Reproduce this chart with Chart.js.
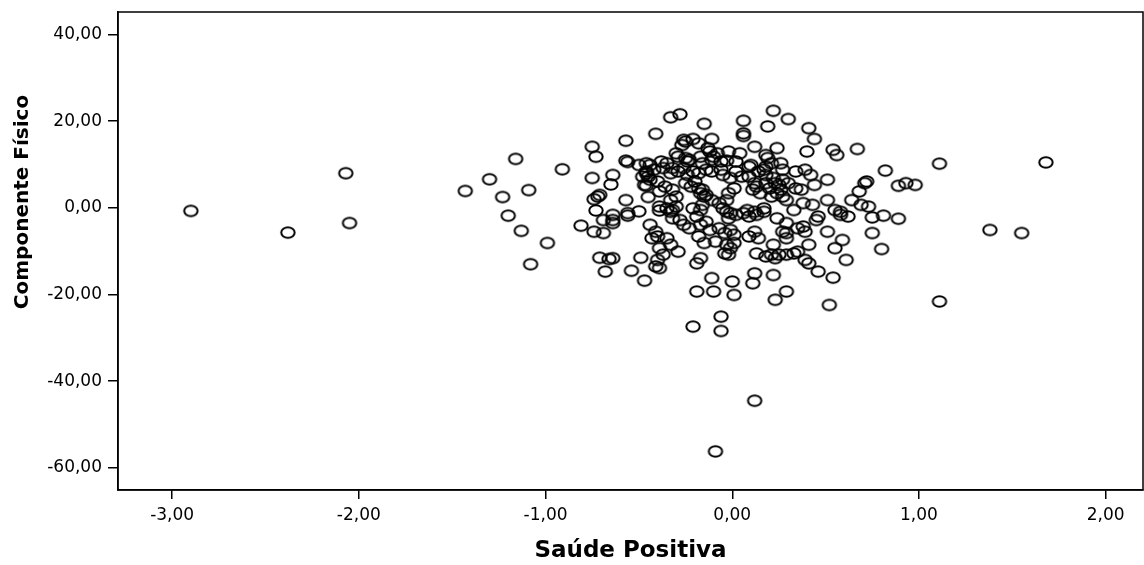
<!DOCTYPE html>
<html>
<head>
<meta charset="utf-8">
<script src="https://cdn.jsdelivr.net/npm/chart.js@4/dist/chart.umd.min.js"></script>
<style>
  body { margin: 0; background: #fff; }
  #wrap { width: 1144px; height: 565px; }
</style>
</head>
<body>
<div id="wrap"><canvas id="scatterChart" width="1144" height="565"></canvas></div>
<script>
// Saúde Positiva (x) vs Componente Físico (y), one entry per respondent
const saudePositiva = [
  -2.90, -2.38, -2.07, -2.05, -1.43, -1.30, -1.23, -1.20, -1.16, -0.91,
  -1.09, -1.13, -0.99, -1.08, -0.75, -0.73, -0.57, -0.75, -0.64, -0.65,
  -0.72, -0.74, -0.71, -0.73, -0.57, -0.57, -0.56, -0.50, -0.46, -0.46,
  -0.45, -0.46, -0.45, -0.50, -0.56, -0.64, -0.81, -0.74, -0.69, -0.69,
  -0.64, -0.64, -0.56, -0.44, -0.71, -0.66, -0.64, -0.68, -0.54, -0.49,
  -0.47,
  -0.33, -0.28, -0.15, -0.41, 0.06, 0.22, 0.19, 0.06, 0.06,
  -0.11, -0.26, -0.21, -0.18, -0.27, -0.25, -0.13, -0.12, -0.30, -0.29,
  -0.25, -0.24, -0.23, -0.17, -0.16, -0.11, -0.10, -0.08, -0.02, 0.04,
  -0.06, -0.03, 0.02, 0.10, 0.09, 0.12, 0.19, 0.18, 0.21, 0.18,
  0.24, 0.26, 0.27, 0.14, 0.18, 0.17, 0.22, 0.23, 0.25, 0.26,
  0.18, 0.20, 0.27, 0.30, -0.44, -0.42, -0.46, -0.38, -0.35, -0.37,
  -0.32, -0.29, -0.33, -0.26, -0.24, -0.21, -0.18, -0.14, -0.11, -0.06,
  -0.05, 0.02, 0.05, -0.48, -0.44, -0.47, -0.40, -0.36, -0.39, -0.32,
  -0.30, -0.33, -0.25, -0.22, -0.20, -0.18, -0.17, -0.16, -0.14, -0.15,
  -0.01, 0.01, -0.02, -0.03, -0.11, -0.07, 0.09, 0.12, 0.11, 0.13,
  0.15, 0.21, 0.24, 0.27, 0.29, -0.39, -0.35, -0.32, -0.30, -0.21,
  -0.17, -0.16, -0.05, -0.03, -0.01, 0.08, 0.12, 0.17,
  -0.41, -0.40, -0.43, -0.39, -0.37, -0.40, -0.41, -0.39, -0.35, -0.33, -0.29,
  -0.39, -0.33, -0.32, -0.28, -0.26, -0.23, -0.19, -0.17, -0.14, -0.12,
  -0.18, -0.15, -0.09, -0.17, -0.19, -0.11, -0.10, -0.19, -0.06, 0.00, 0.01,
  -0.02, 0.02, 0.06, 0.09, 0.13, 0.17, -0.07, -0.04, -0.01, 0.01,
  -0.03, -0.01, 0.01, -0.04, -0.02, 0.09, 0.14, 0.12, 0.13, 0.18,
  0.21, 0.23, 0.25, 0.22, 0.24, 0.29, 0.27, 0.29, 0.12, 0.11,
  0.22, 0.23, 0.29, -0.21, -0.06, 0.12, -0.09,
  0.30, 0.41, 0.44, 0.40, 0.54, 0.56, 0.67, 0.82, 0.72, 0.71,
  0.68, 0.89, 0.93, 0.98, 0.64, 0.69, 0.73, 0.51, 0.44, 0.51,
  0.39, 0.42, 0.34, 0.37, 0.34, 0.43, 0.38, 0.33, 0.55, 0.58,
  0.81, 0.89, 0.75, 0.75, 0.80, 0.51, 0.59, 0.55, 0.61, 0.46, 0.54,
  0.52, 0.62, 0.58, 0.46, 0.45, 0.29, 0.35, 0.38, 0.39, 0.41,
  0.33, 0.35, 0.29, 0.39, 0.41, 1.11, 1.68, 1.38, 1.55, 1.11
];

const componenteFisico = [
  -0.7, -5.7, 8.0, -3.5, 3.9, 6.6, 2.5, -1.8, 11.3, 8.9,
  4.1, -5.3, -8.1, -13.0, 14.1, 11.8, 15.5, 6.9, 7.6, 5.4,
  2.6, 2.0, 3.0, -0.6, 1.8, 10.9, 10.6, 9.9, 10.3, 8.4,
  7.2, 5.1, 2.5, -0.8, -1.2, -1.6, -4.1, -5.5, -5.8, -2.8,
  -2.8, -3.5, -1.8, -3.9, -11.5, -11.8, -11.6, -14.7, -14.5, -11.5,
  -16.8,
  20.9, 21.6, 19.4, 17.1, 20.1, 22.4, 18.8, 17.2, 16.6,
  15.9, 15.7, 15.9, 14.9, 14.5, 15.3, 13.8, 13.0, 12.6, 11.8,
  11.5, 10.7, 11.1, 11.8, 10.3, 11.1, 11.8, 12.6, 13.0, 12.6,
  10.7, 10.9, 10.7, 9.9, 9.5, 14.1, 11.5, 12.2, 10.3, 9.5,
  13.8, 10.3, 8.8, 8.4, 7.6, 8.8, 6.9, 5.7, 5.3, 4.2,
  5.7, 4.5, 6.5, 5.7, 9.9, 8.8, 8.0, 10.7, 10.3, 9.2,
  9.2, 8.4, 8.0, 9.2, 7.6, 8.4, 8.0, 8.8, 8.4, 8.8,
  7.6, 8.4, 7.2, 7.2, 6.5, 5.3, 6.1, 4.9, 3.8, 4.2,
  2.6, 1.8, 5.7, 4.9, 6.1, 4.5, 3.4, 4.2, 3.0, 2.6,
  6.9, 4.5, 3.4, 1.8, 1.8, 1.1, 7.2, 5.7, 4.2, 4.9,
  3.4, 2.6, 3.4, 2.6, 1.8, 0.3, -0.1, -0.5, 0.3, -0.1,
  -0.5, 0.7, -0.1, -0.9, -1.2, -0.5, -0.9, -0.1,
  -5.5, -6.6, -7.0, -9.3, -10.8, -12.0, -13.5, -13.9, -7.0, -8.5, -10.1,
  -0.6, -0.9, -2.4, -2.8, -3.9, -4.7, -2.0, -3.9, -3.2, -5.1,
  -6.6, -8.1, -7.8, -11.6, -12.8, -16.2, -19.3, -19.3, -25.1, -17.0, -20.1,
  -2.4, -1.6, -1.2, -2.0, -1.6, -0.9, -4.7, -5.8, -5.1, -6.2,
  -8.5, -9.3, -8.1, -10.5, -10.8, -6.6, -7.0, -5.5, -10.5, -11.2,
  -10.8, -11.6, -10.8, -8.5, -2.4, -3.5, -5.5, -7.0, -15.1, -17.4,
  -15.5, -21.2, -19.3, -27.4, -28.4, -44.5, -56.2,
  20.5, 18.4, 15.9, 13.0, 13.4, 12.2, 13.6, 8.6, 6.1, 5.7,
  3.8, 5.1, 5.7, 5.3, 1.8, 0.7, 0.3, 6.5, 5.3, 1.8,
  8.8, 7.6, 8.4, 4.2, 4.5, 0.7, 1.1, -0.5, -0.5, -0.9,
  -1.8, -2.5, -2.2, -5.8, -9.5, -5.5, -7.4, -9.3, -12.0, -14.7, -16.1,
  -22.4, -2.0, -1.6, -2.0, -2.8, -5.8, -4.7, -4.3, -5.5, -8.5,
  -10.5, -10.1, -10.8, -12.0, -12.8, 10.2, 10.5, -5.1, -5.8, -21.6
];

const xTicks = [-3, -2, -1, 0, 1, 2];
const yTicks = [-60, -40, -20, 0, 20, 40];

// open ellipse used as the point marker
function makeMarker() {
    const c = document.createElement('canvas');
    c.width = 18;
    c.height = 15;
    const g = c.getContext('2d');
    g.strokeStyle = '#000';
    g.lineWidth = 2;
    g.beginPath();
    g.ellipse(9, 7.5, 6.7, 5.2, 0, 0, Math.PI * 2);
    g.stroke();
    return c;
}

// box around the plot area
const framePlugin = {
    id: 'frame',
    afterDatasetsDraw(chart) {
        const { ctx, chartArea: a } = chart;
        ctx.save();
        ctx.strokeStyle = '#000';
        ctx.lineWidth = 1.5;
        ctx.strokeRect(a.left, a.top, a.right - a.left, a.bottom - a.top);
        ctx.restore();
    }
};

// y title sits a bit above the middle of the axis, so it is drawn by hand
const yTitlePlugin = {
    id: 'yTitle',
    afterDraw(chart) {
        const ctx = chart.ctx;
        ctx.save();
        ctx.translate(23, 202);
        ctx.rotate(-Math.PI / 2);
        ctx.font = 'bold 20px "DejaVu Sans", sans-serif';
        ctx.fillStyle = '#000';
        ctx.textAlign = 'center';
        ctx.textBaseline = 'middle';
        ctx.fillText('Componente Físico', 0, 0);
        ctx.restore();
    }
};

function commaLabel(v) {
    return v.toFixed(2).replace('.', ',');
}

document.addEventListener('DOMContentLoaded', function() {
    Chart.defaults.font.family = '"DejaVu Sans", sans-serif';
    Chart.defaults.color = '#000';

    const points = saudePositiva.map(function(x, i) {
        return { x: x, y: componenteFisico[i] };
    });

    new Chart(document.getElementById('scatterChart'), {
        type: 'scatter',
        data: {
            datasets: [{
                data: points,
                pointStyle: makeMarker(),
                pointRadius: 6,
                borderColor: '#000'
            }]
        },
        options: {
            responsive: false,
            animation: false,
            layout: {
                autoPadding: false,
                padding: { top: 12, right: 1, left: 0, bottom: 0 }
            },
            plugins: {
                legend: { display: false },
                tooltip: { enabled: false }
            },
            scales: {
                x: {
                    type: 'linear',
                    min: -3.29,
                    max: 2.2,
                    afterBuildTicks: function(scale) {
                        scale.ticks = xTicks.map(function(v) { return { value: v }; });
                    },
                    afterFit: function(scale) {
                        scale.height = 75;
                        scale.paddingLeft = 0;
                        scale.paddingRight = 0;
                    },
                    border: { display: true, color: '#000', width: 1.5 },
                    grid: { drawOnChartArea: false, drawTicks: true, tickLength: 9, color: '#000', lineWidth: 1.5 },
                    ticks: {
                        padding: 6,
                        maxRotation: 0,
                        font: { size: 17 },
                        callback: function(v) { return commaLabel(v); }
                    },
                    title: {
                        display: true,
                        text: 'Saúde Positiva',
                        font: { size: 23, weight: 'bold' },
                        padding: { top: 0, bottom: 0 }
                    }
                },
                y: {
                    type: 'linear',
                    min: -65.1,
                    max: 45.2,
                    afterBuildTicks: function(scale) {
                        scale.ticks = yTicks.map(function(v) { return { value: v }; });
                    },
                    afterFit: function(scale) {
                        scale.width = 118;
                        scale.paddingTop = 0;
                        scale.paddingBottom = 0;
                    },
                    border: { display: true, color: '#000', width: 1.5 },
                    grid: { drawOnChartArea: false, drawTicks: true, tickLength: 10, color: '#000', lineWidth: 1.5 },
                    ticks: {
                        padding: 6,
                        font: { size: 17 },
                        callback: function(v) { return commaLabel(v); }
                    },
                    title: { display: false }
                }
            }
        },
        plugins: [framePlugin, yTitlePlugin]
    });
});
</script>
</body>
</html>
